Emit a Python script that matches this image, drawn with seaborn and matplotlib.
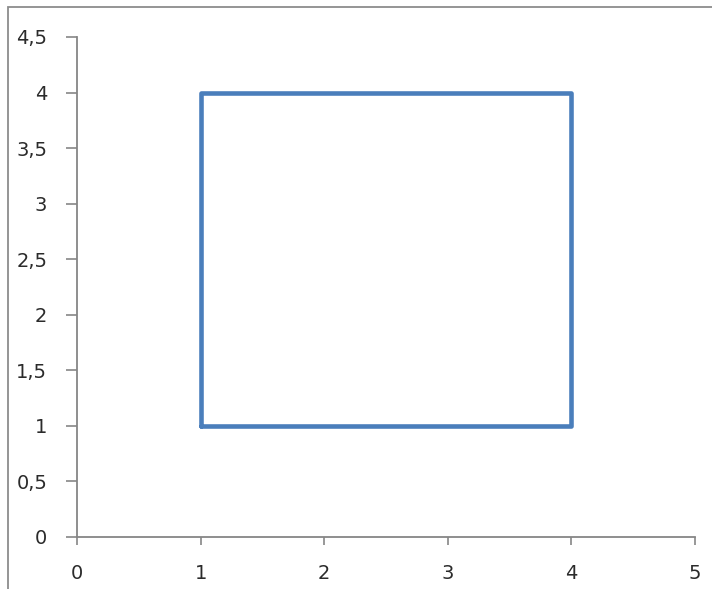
import matplotlib
matplotlib.use("Agg")
import matplotlib.pyplot as plt
import matplotlib.ticker as mticker
from matplotlib.patches import Rectangle
import pandas as pd
import seaborn as sns

# Corner points of the square, traced in order and closed back to the start
x_values = [1, 4, 4, 1, 1]
y_values = [1, 1, 4, 4, 1]
x_ticks = [0, 1, 2, 3, 4, 5]
y_ticks = [0, 0.5, 1, 1.5, 2, 2.5, 3, 3.5, 4, 4.5]

sns.set_theme(style="white")
plt.rcParams["font.family"] = ["DejaVu Sans"]

df = pd.DataFrame({"x": x_values, "y": y_values})

fig = plt.figure(figsize=(7.12, 5.89), dpi=100)
ax = fig.add_axes([77 / 712, 1 - 537 / 589, (695 - 77) / 712, (537 - 37) / 589])

sns.lineplot(data=df, x="x", y="y", sort=False, estimator=None, ax=ax,
             color="#4A7EBB", linewidth=3.3, solid_joinstyle="round",
             solid_capstyle="round")

ax.set_xlim(0, 5)
ax.set_ylim(0, 4.5)
ax.set_xticks(x_ticks)
ax.set_yticks(y_ticks)


def comma_fmt(v, pos):
    return f"{v:g}".replace(".", ",")


ax.xaxis.set_major_formatter(mticker.FuncFormatter(comma_fmt))
ax.yaxis.set_major_formatter(mticker.FuncFormatter(comma_fmt))
ax.set_xlabel("")
ax.set_ylabel("")

axis_gray = "#868686"
for side in ("top", "right"):
    ax.spines[side].set_visible(False)
for side in ("left", "bottom"):
    ax.spines[side].set_color(axis_gray)
    ax.spines[side].set_linewidth(1.3)

ax.tick_params(axis="both", which="major", direction="out", width=1.2,
               color=axis_gray, labelsize=14, labelcolor="#2b2b2b")
ax.tick_params(axis="x", length=5.5, pad=14)
ax.tick_params(axis="y", length=8, pad=13.5)
ax.xaxis.set_ticks_position("bottom")
ax.yaxis.set_ticks_position("left")
ax.grid(False)

# Outer chart frame
fig.add_artist(Rectangle((7.5 / 712, -0.1), 1.2, 1 - 7.5 / 589 + 0.1,
                         transform=fig.transFigure, fill=False,
                         edgecolor="#8c8c8c", linewidth=1.3))

fig.savefig("out.png", dpi=100)
